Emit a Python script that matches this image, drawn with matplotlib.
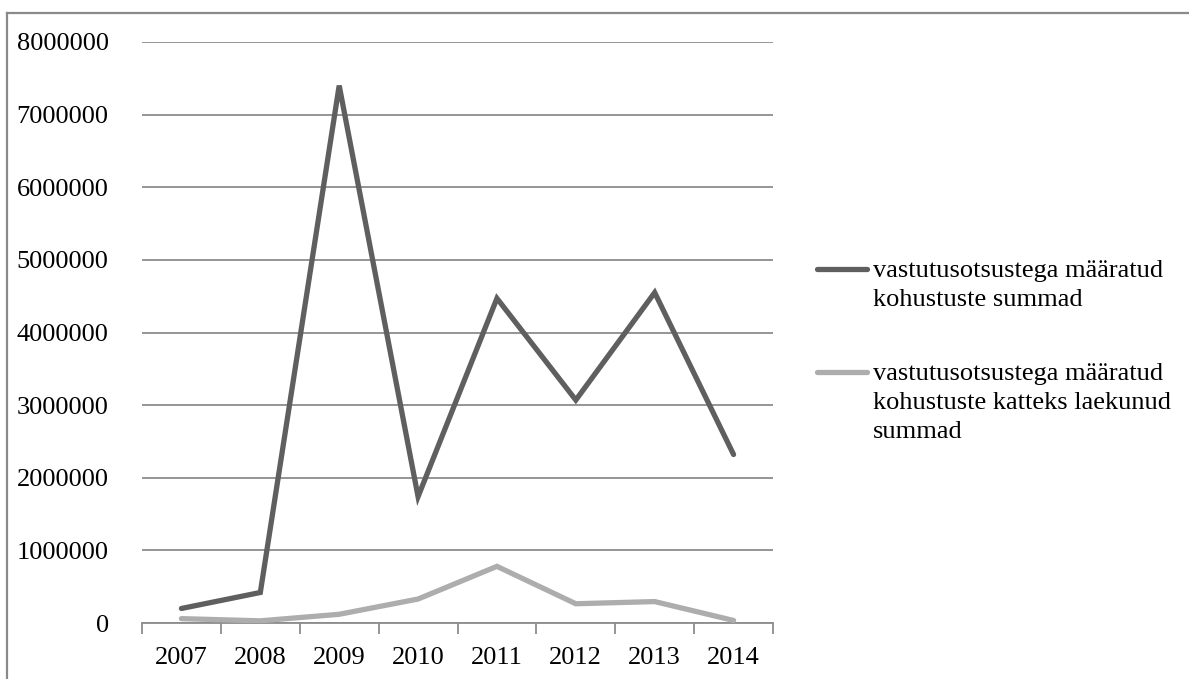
import matplotlib
matplotlib.use("Agg")
import matplotlib.pyplot as plt
from matplotlib.lines import Line2D

plt.rcParams['font.family'] = ['Liberation Serif', 'DejaVu Serif']

years = ['2007', '2008', '2009', '2010', '2011', '2012', '2013', '2014']
maaratud = [200000, 420000, 7400000, 1740000, 4470000, 3070000, 4550000, 2320000]
laekunud = [60000, 30000, 120000, 330000, 780000, 265000, 295000, 35000]

labels = ['vastutusotsustega määratud\nkohustuste summad',
          'vastutusotsustega määratud\nkohustuste katteks laekunud\nsummad']
colors = ['#5f5f5f', '#adadad']

grid_col = '#8c8c8c'
fs = 19

W, H = 1189, 679
fig = plt.figure(figsize=(W / 100, H / 100), dpi=100)
ax = fig.add_axes([142 / W, 1 - 623 / H, (773 - 142) / W, (623 - 42) / H])

x = list(range(len(years)))
ax.plot(x, maaratud, color=colors[0], lw=3.8, solid_capstyle='round', solid_joinstyle='miter', zorder=3)
ax.plot(x, laekunud, color=colors[1], lw=3.8, solid_capstyle='round', solid_joinstyle='miter', zorder=3)

ax.set_xlim(-0.5, len(years) - 0.5)
ax.set_ylim(0, 8000000)
ax.set_yticks(range(0, 8000001, 1000000))
ax.set_yticklabels([str(v) for v in range(0, 8000001, 1000000)], fontsize=fs)
ax.yaxis.grid(True, color=grid_col, lw=1.3)
ax.set_axisbelow(True)
ax.tick_params(axis='y', length=0, pad=24)

# category labels in the middle, tick marks on the boundaries
ax.set_xticks(x)
ax.set_xticklabels(years, fontsize=fs)
ax.set_xticks([i - 0.5 for i in range(len(years) + 1)], minor=True)
ax.tick_params(axis='x', which='major', length=0, pad=17)
ax.tick_params(axis='x', which='minor', length=8, width=1.3, color=grid_col)

for s in ['top', 'right', 'left']:
    ax.spines[s].set_visible(False)
ax.spines['bottom'].set_color(grid_col)
ax.spines['bottom'].set_linewidth(1.3)

# legend, handle level with the first text line
handle_y = [269, 372]
for lab, col, hy in zip(labels, colors, handle_y):
    fy = 1 - hy / H
    fig.add_artist(Line2D([817 / W, 867 / W], [fy, fy], color=col, lw=3.8,
                          solid_capstyle='round'))
    fig.text(873 / W, 1 - (hy - 9) / H, lab, fontsize=fs, va='top', ha='left',
             linespacing=1.42)

# outer frame (top and left edges)
fig.add_artist(Line2D([7 / W, 1.0], [1 - 13 / H, 1 - 13 / H], color='#8a8a8a', lw=1.6))
fig.add_artist(Line2D([7 / W, 7 / W], [0.0, 1 - 13 / H], color='#8a8a8a', lw=1.6))

fig.savefig('out.png', dpi=100, facecolor='white')
